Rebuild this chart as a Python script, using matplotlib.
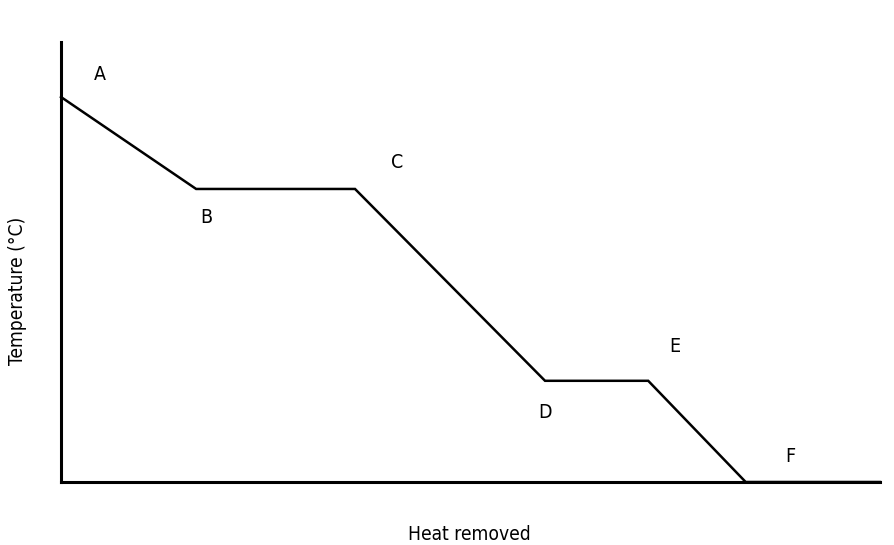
import matplotlib
matplotlib.use("Agg")
import matplotlib.pyplot as plt

plt.rcParams['font.family'] = ['DejaVu Sans']
plt.rcParams['font.stretch'] = 'condensed'

# cooling curve: heat removed vs temperature (arbitrary units)
heat = [0, 16.5, 35.9, 59.1, 71.7, 83.6, 100]
temp = [87.5, 66.6, 66.6, 23.0, 23.0, 0, 0]

point_names = ['A', 'B', 'C', 'D', 'E', 'F']
label_x = [4.7, 17.7, 41.0, 59.1, 75.0, 89.0]
label_y = [92.7, 60.2, 72.7, 15.9, 30.9, 5.9]

fig = plt.figure(figsize=(8.95, 5.45), dpi=100)
ax = fig.add_axes([61 / 895, 63 / 545, 819 / 895, 440 / 545])

ax.plot(heat, temp, color='black', lw=1.8, solid_joinstyle='miter', clip_on=False)

for name, x, y in zip(point_names, label_x, label_y):
    ax.text(x, y, name, fontsize=14, ha='center', va='center', fontstretch='condensed')

ax.set_xlim(0, 100)
ax.set_ylim(0, 100)
ax.set_xticks([])
ax.set_yticks([])
for side in ['top', 'right']:
    ax.spines[side].set_visible(False)
for side in ['left', 'bottom']:
    ax.spines[side].set_linewidth(2.2)
    ax.spines[side].set_color('black')

fig.text(469 / 895, 1 - 535 / 545, 'Heat removed', fontsize=13.8,
         ha='center', va='center', fontstretch='condensed')
fig.text(18 / 895, 1 - 291 / 545, 'Temperature (°C)', fontsize=13.8, rotation=90,
         ha='center', va='center', fontstretch='condensed')

fig.savefig('out.png', dpi=100)
